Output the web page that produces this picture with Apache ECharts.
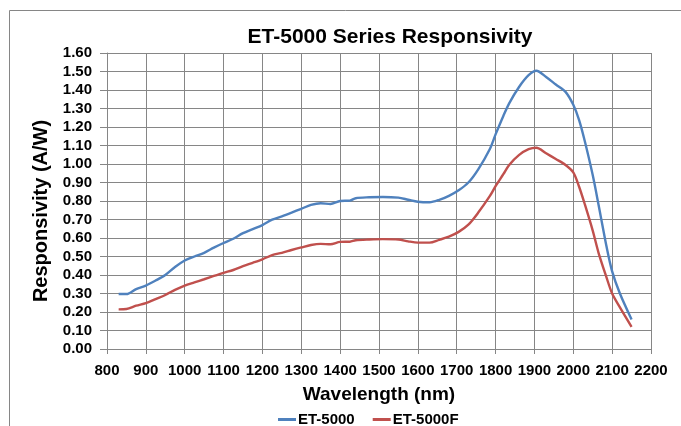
<!DOCTYPE html>
<html>
<head>
<meta charset="utf-8">
<script src="https://cdn.jsdelivr.net/npm/echarts@6/dist/echarts.min.js"></script>
<style>
  html, body { margin: 0; padding: 0; background: #fff; }
  #main { width: 681px; height: 426px; }
</style>
</head>
<body>
<div id="main"></div>
<script>
  // wavelength (nm) sample points
  var wavelengths = [830, 850, 875, 900, 925, 950, 975, 1000, 1025, 1050, 1075, 1100, 1125, 1150, 1175,
    1200, 1225, 1250, 1275, 1300, 1325, 1350, 1375, 1400, 1425, 1440, 1475, 1510, 1550, 1575, 1600,
    1630, 1655, 1680, 1705, 1730, 1755, 1785, 1800, 1820, 1835, 1860, 1885, 1905, 1930, 1955, 1980,
    2000, 2015, 2030, 2050, 2065, 2085, 2100, 2120, 2150];

  var et5000 = [0.297, 0.297, 0.324, 0.343, 0.37, 0.40, 0.443, 0.478, 0.50, 0.52, 0.548, 0.573, 0.596, 0.626, 0.648,
    0.67, 0.699, 0.717, 0.737, 0.758, 0.779, 0.788, 0.784, 0.80, 0.802, 0.815, 0.82, 0.822, 0.818, 0.807, 0.796,
    0.793, 0.806, 0.828, 0.858, 0.90, 0.97, 1.08, 1.16, 1.26, 1.328, 1.415, 1.48, 1.504, 1.47, 1.43, 1.39,
    1.32, 1.237, 1.12, 0.94, 0.78, 0.56, 0.42, 0.30, 0.16];

  var et5000f = [0.214, 0.216, 0.234, 0.248, 0.27, 0.292, 0.32, 0.343, 0.36, 0.377, 0.395, 0.412, 0.427, 0.448, 0.466,
    0.485, 0.508, 0.52, 0.535, 0.549, 0.562, 0.568, 0.566, 0.579, 0.58, 0.588, 0.592, 0.594, 0.592, 0.582, 0.575,
    0.575, 0.59, 0.607, 0.633, 0.672, 0.736, 0.826, 0.88, 0.945, 0.995, 1.048, 1.08, 1.088, 1.058, 1.027, 0.995,
    0.955, 0.877, 0.78, 0.64, 0.52, 0.39, 0.30, 0.225, 0.12];

  var seriesNames = ['ET-5000', 'ET-5000F'];

  function pairs(ys) {
    return wavelengths.map(function (w, i) { return [w, ys[i]]; });
  }

  var chart = echarts.init(document.getElementById('main'));
  var font = 'Liberation Sans, Arial, sans-serif';
  var gridColor = '#868686';

  var option = {
    animation: false,
    backgroundColor: '#fff',
    title: {
      text: 'ET-5000 Series Responsivity',
      left: 385,
      textAlign: 'center',
      top: 22,
      textStyle: { fontFamily: font, fontSize: 21, fontWeight: 'bold', color: '#000' }
    },
    legend: {
      data: seriesNames,
      top: 407,
      left: 273,
      itemWidth: 18,
      itemHeight: 3,
      itemGap: 18,
      icon: 'rect',
      textStyle: { fontFamily: font, fontSize: 15, fontWeight: 'bold', color: '#000', padding: [0, 0, 0, -3] }
    },
    graphic: [
      {
        type: 'polyline',
        shape: { points: [[9.5, 426], [9.5, 10.5], [681, 10.5]] },
        style: { stroke: gridColor, lineWidth: 1, fill: null },
        silent: true
      }
    ],
    grid: { left: 107, right: 30, top: 53, bottom: 77 },
    xAxis: {
      type: 'value',
      min: 800,
      max: 2200,
      interval: 100,
      name: 'Wavelength (nm)',
      nameLocation: 'middle',
      nameGap: 36,
      nameTextStyle: { fontFamily: font, fontSize: 19, fontWeight: 'bold', color: '#000' },
      axisLine: { show: true, lineStyle: { color: gridColor } },
      axisTick: { show: true, length: 5, lineStyle: { color: gridColor } },
      axisLabel: {
        fontFamily: font, fontSize: 15, fontWeight: 'bold', color: '#000', margin: 14,
        formatter: function (v) { return String(v); }
      },
      splitLine: { show: true, lineStyle: { color: gridColor, width: 1 } }
    },
    yAxis: {
      type: 'value',
      min: 0,
      max: 1.6,
      interval: 0.1,
      name: 'Responsivity (A/W)',
      nameLocation: 'middle',
      nameGap: 55,
      nameTextStyle: { fontFamily: font, fontSize: 20, fontWeight: 'bold', color: '#000', padding: [0, 20, 0, 0] },
      axisLine: { show: true, lineStyle: { color: gridColor } },
      axisTick: { show: true, length: 7, lineStyle: { color: gridColor } },
      axisLabel: {
        fontFamily: font, fontSize: 15, fontWeight: 'bold', color: '#000', margin: 15,
        formatter: function (v) { return v.toFixed(2); }
      },
      splitLine: { show: true, lineStyle: { color: gridColor, width: 1 } }
    },
    series: [
      {
        name: seriesNames[0],
        type: 'line',
        smooth: 0.3,
        showSymbol: false,
        lineStyle: { color: '#4F81BD', width: 2.4 },
        itemStyle: { color: '#4F81BD' },
        data: pairs(et5000)
      },
      {
        name: seriesNames[1],
        type: 'line',
        smooth: 0.3,
        showSymbol: false,
        lineStyle: { color: '#C0504D', width: 2.4 },
        itemStyle: { color: '#C0504D' },
        data: pairs(et5000f)
      }
    ]
  };

  option && chart.setOption(option);
</script>
</body>
</html>
